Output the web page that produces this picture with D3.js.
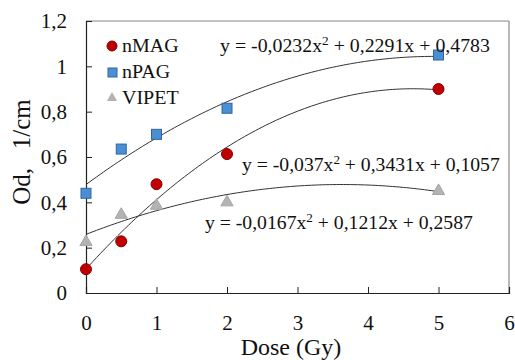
<!DOCTYPE html>
<html>
<head>
<meta charset="utf-8">
<script src="https://cdn.jsdelivr.net/npm/d3@7"></script>
<style>
  body { margin: 0; background: #fff; }
  svg text { font-family: 'Liberation Serif', 'Times New Roman', Times, serif !important; }
</style>
</head>
<body>
<svg id="chart" width="515" height="360"></svg>
<script>
// data
const doses = [0, 0.5, 1, 2, 5];
const nMAG = [0.105, 0.228, 0.48, 0.613, 0.90];
const nPAG = [0.44, 0.635, 0.70, 0.815, 1.05];
const VIPET = [0.225, 0.345, 0.385, 0.40, 0.45];
// trendline coefficients [a, b, c] for a*x^2 + b*x + c
const fitMAG = [-0.037, 0.3431, 0.1057];
const fitPAG = [-0.0232, 0.2291, 0.4783];
const fitVIPET = [-0.0167, 0.1212, 0.2587];
const xTicks = [0, 1, 2, 3, 4, 5, 6];
const yTicks = [0, 0.2, 0.4, 0.6, 0.8, 1, 1.2];
const seriesNames = ['nMAG', 'nPAG', 'VIPET'];

const svg = d3.select('#chart');
const mLeft = 86, mRight = 509, mTop = 21, mBottom = 293;

const x = d3.scaleLinear().domain([0, 6]).range([mLeft, mRight]);
const y = d3.scaleLinear().domain([0, 1.2]).range([mBottom, mTop]);
const fmt = d => String(d).replace('.', ',');

// frame
svg.append('line').attr('x1', mLeft).attr('x2', mRight).attr('y1', mTop).attr('y2', mTop)
    .attr('stroke', '#888').attr('stroke-width', 1.2);
svg.append('line').attr('x1', mRight).attr('x2', mRight).attr('y1', mTop).attr('y2', mBottom)
    .attr('stroke', '#888').attr('stroke-width', 1.2);

let xAxis = svg.append('g')
    .attr('transform', `translate(0,${mBottom})`)
    .call(d3.axisBottom(x).tickValues(xTicks).tickSize(-6).tickPadding(22).tickFormat(fmt));
let yAxis = svg.append('g')
    .attr('transform', `translate(${mLeft},0)`)
    .call(d3.axisLeft(y).tickValues(yTicks).tickSize(-6).tickPadding(19).tickFormat(fmt));

[xAxis, yAxis].forEach(g => {
    g.select('.domain').attr('stroke', '#222').attr('stroke-width', 1.2);
    g.selectAll('.tick line').attr('stroke', '#222');
    g.selectAll('.tick text').attr('font-size', 21).attr('fill', '#111');
});
yAxis.select('.tick:first-of-type line').remove();

// trendlines
const curve = c => d3.range(0, 5.001, 0.05).map(t => [t, c[0] * t * t + c[1] * t + c[2]]);
const line = d3.line().x(d => x(d[0])).y(d => y(d[1]));
[fitPAG, fitMAG, fitVIPET].forEach(c => {
    svg.append('path').attr('d', line(curve(c)))
        .attr('fill', 'none').attr('stroke', '#333').attr('stroke-width', 1);
});

// markers
const tri = d3.symbol().type(d3.symbolTriangle).size(65);
svg.selectAll('.vipet').data(doses).enter().append('path')
    .attr('d', tri).attr('transform', (d, i) => `translate(${x(d)},${y(VIPET[i])})`)
    .attr('fill', '#b3b3b3').attr('stroke', '#a6a6a6');
svg.selectAll('.npag').data(doses).enter().append('rect')
    .attr('x', d => x(d) - 5).attr('width', 10).attr('height', 10)
    .attr('y', (d, i) => y(nPAG[i]) - 5)
    .attr('fill', '#4a8fd4').attr('stroke', '#2f66a0').attr('stroke-width', 1);
svg.selectAll('.nmag').data(doses).enter().append('circle')
    .attr('cx', d => x(d)).attr('cy', (d, i) => y(nMAG[i])).attr('r', 5.5)
    .attr('fill', '#c00000').attr('stroke', '#800000').attr('stroke-width', 1);

// legend
const lg = svg.append('g');
lg.append('circle').attr('cx', 112).attr('cy', 46).attr('r', 5).attr('fill', '#c00000').attr('stroke', '#800000');
lg.append('rect').attr('x', 108).attr('y', 68).attr('width', 9).attr('height', 9).attr('fill', '#4a8fd4').attr('stroke', '#2f66a0');
lg.append('path').attr('d', d3.symbol().type(d3.symbolTriangle).size(45)).attr('transform', 'translate(112,98)').attr('fill', '#b3b3b3');
seriesNames.forEach((t, i) => {
    lg.append('text').attr('transform', `translate(122,${[52, 78, 104][i]}) scale(1.08,1)`)
        .attr('font-size', 18.5).attr('fill', '#111').text(t);
});

// equations, stretched horizontally to the width they take in the original
const eqs = [
    {txt: 'y = -0,0232x', p: ' + 0,2291x + 0,4783', x: 220, y: 52, w: 270},
    {txt: 'y = -0,037x', p: ' + 0,3431x + 0,1057', x: 242, y: 171, w: 258},
    {txt: 'y = -0,0167x', p: ' + 0,1212x + 0,2587', x: 205, y: 229, w: 268}
];
eqs.forEach(e => {
    const t = svg.append('text').attr('font-size', 18).attr('fill', '#111');
    t.append('tspan').text(e.txt);
    t.append('tspan').attr('dy', -7).attr('font-size', 12).text('2');
    t.append('tspan').attr('dy', 7).text(e.p);
    const w = t.node().getBBox().width;
    t.attr('transform', `translate(${e.x},${e.y}) scale(${e.w / w},1)`);
});

// axis titles
svg.append('text').attr('x', 291).attr('y', 355).attr('text-anchor', 'middle')
    .attr('font-size', 24).attr('fill', '#111').text('Dose (Gy)');
svg.append('text').attr('transform', 'translate(30,152) rotate(-90)').attr('text-anchor', 'middle')
    .attr('font-size', 25).attr('fill', '#111')
    .attr('xml:space', 'preserve').text('Od,   1/cm');
</script>
</body>
</html>
